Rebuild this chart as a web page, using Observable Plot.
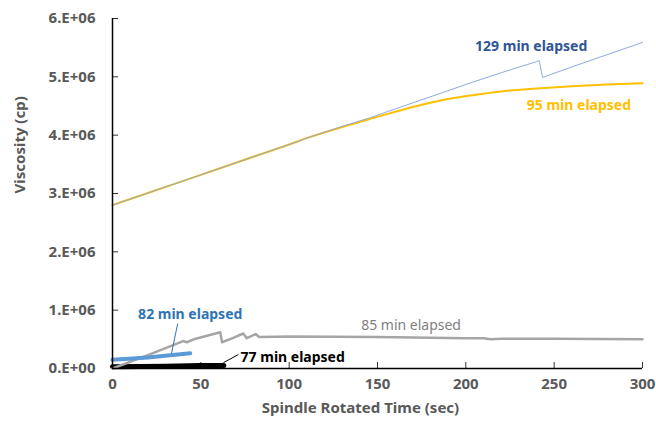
<!DOCTYPE html>
<html><head><meta charset="utf-8">
<script src="https://cdn.jsdelivr.net/npm/d3@7"></script>
<script src="https://cdn.jsdelivr.net/npm/@observablehq/plot@0.6"></script>
<style>body{margin:0;background:#fff}</style>
</head><body><div id="chart"></div>
<script>
// Series (time in sec, viscosity in units of 1E6 cp)
const t129 = [0, 25, 50, 74, 100, 112, 130, 146, 160, 184, 203, 220, 240, 241.5, 243.5, 260, 280, 300];
const v129 = [2.80, 3.06, 3.32, 3.57, 3.84, 3.97, 4.15, 4.30, 4.45, 4.70, 4.90, 5.07, 5.26, 5.28, 4.99, 5.17, 5.38, 5.59];
const t95 = [0, 25, 50, 74, 100, 112, 130, 146, 160, 175, 190, 205, 220, 240, 260, 280, 300];
const v95 = [2.80, 3.06, 3.32, 3.57, 3.84, 3.97, 4.14, 4.28, 4.40, 4.52, 4.62, 4.69, 4.75, 4.80, 4.84, 4.87, 4.89];
const t85 = [0, 20, 40, 42, 46, 61, 62, 68, 74, 76, 81, 83, 100, 150, 200, 210, 214, 220, 250, 300];
const v85 = [0, 0.23, 0.47, 0.45, 0.50, 0.62, 0.45, 0.52, 0.60, 0.52, 0.59, 0.54, 0.55, 0.54, 0.52, 0.52, 0.50, 0.51, 0.51, 0.50];
const t82 = [0, 20, 44];
const v82 = [0.15, 0.19, 0.26];
const t77 = [0, 30, 50, 63];
const v77 = [0.03, 0.04, 0.05, 0.05];

// Labels
const labelText = ["129 min elapsed", "95 min elapsed", "82 min elapsed", "85 min elapsed", "77 min elapsed"];
const labelT = [237, 264, 44, 169, 72.5];
const labelV = [5.52, 4.51, 0.93, 0.74, 0.19];
const labelColor = ["#2f5597", "#ffc000", "#2e75b6", "#7f7f7f", "#000000"];
const labelBold = [true, true, true, false, true];
const labelAnchor = ["middle", "middle", "middle", "middle", "start"];
// Leader lines
const leadT1 = [36.9, 71.3];
const leadV1 = [0.77, 0.24];
const leadT2 = [33.4, 62.8];
const leadV2 = [0.26, 0.10];
const leadColor = ["#2e75b6", "#000000"];

const xTicks = [0, 50, 100, 150, 200, 250, 300];
const yTicks = [0, 1, 2, 3, 4, 5, 6];

const toRows = (ts, vs) => ts.map((t, i) => ({t, v: vs[i] * 1e6}));
const labels = labelText.map((s, i) => ({s, t: labelT[i], v: labelV[i] * 1e6, c: labelColor[i], b: labelBold[i], a: labelAnchor[i]}));
const leaders = leadT1.map((t, i) => ({t1: t, v1: leadV1[i] * 1e6, t2: leadT2[i], v2: leadV2[i] * 1e6, c: leadColor[i]}));

const fmtY = d => d === 0 ? "0.E+00" : `${d / 1e6}.E+06`;

const labelMark = (filter, opts) => Plot.text(labels.filter(filter), {x: "t", y: "v", text: "s", fill: "c", fontSize: 14, ...opts});

const chart = Plot.plot({
  width: 656, height: 426,
  marginLeft: 112, marginRight: 14, marginTop: 18, marginBottom: 58,
  style: {fontFamily: "Noto Sans", fontSize: "14px", background: "#fff"},
  x: {domain: [0, 300]},
  y: {domain: [0, 6e6]},
  marks: [
    Plot.axisX({ticks: xTicks, tickSize: -6, tickPadding: 16, label: null, fill: "#595959", stroke: "#333", fontWeight: "bold", fontSize: 15}),
    Plot.axisY({ticks: yTicks.map(d => d * 1e6), tickFormat: fmtY, tickSize: -6, tickPadding: 23, label: null, fill: "#595959", stroke: "#333", fontWeight: "bold", fontSize: 15}),
    Plot.line(toRows(t77, v77), {x: "t", y: "v", stroke: "#000", strokeWidth: 5}),
    Plot.line(toRows(t95, v95), {x: "t", y: "v", stroke: "#ffc000", strokeWidth: 2, curve: "monotone-x"}),
    Plot.line(toRows(t129, v129), {x: "t", y: "v", stroke: "#8faadc", strokeWidth: 1}),
    Plot.line(toRows(t85, v85), {x: "t", y: "v", stroke: "#a5a5a5", strokeWidth: 2.5}),
    Plot.line(toRows(t82, v82), {x: "t", y: "v", stroke: "#5b9bd5", strokeWidth: 4}),
    Plot.link(leaders, {x1: "t1", y1: "v1", x2: "t2", y2: "v2", stroke: "c", strokeWidth: 1}),
    Plot.ruleX([0], {stroke: "#000", strokeWidth: 1.5}),
    Plot.ruleY([0], {stroke: "#000", strokeWidth: 1.5}),
    labelMark(d => d.b && d.a === "middle", {fontWeight: "bold", textAnchor: "middle"}),
    labelMark(d => d.b && d.a === "start", {fontWeight: "bold", textAnchor: "start"}),
    labelMark(d => !d.b, {textAnchor: "middle"}),
    Plot.text(["Spindle Rotated Time (sec)"], {frameAnchor: "bottom", dy: 44, dx: -17, fill: "#595959", fontWeight: "bold", fontSize: 15}),
    Plot.text(["Viscosity (cp)"], {frameAnchor: "left", dx: -92, rotate: -90, fill: "#595959", fontWeight: "bold", fontSize: 15})
  ]
});
document.getElementById("chart").appendChild(chart);
</script>
</body></html>
